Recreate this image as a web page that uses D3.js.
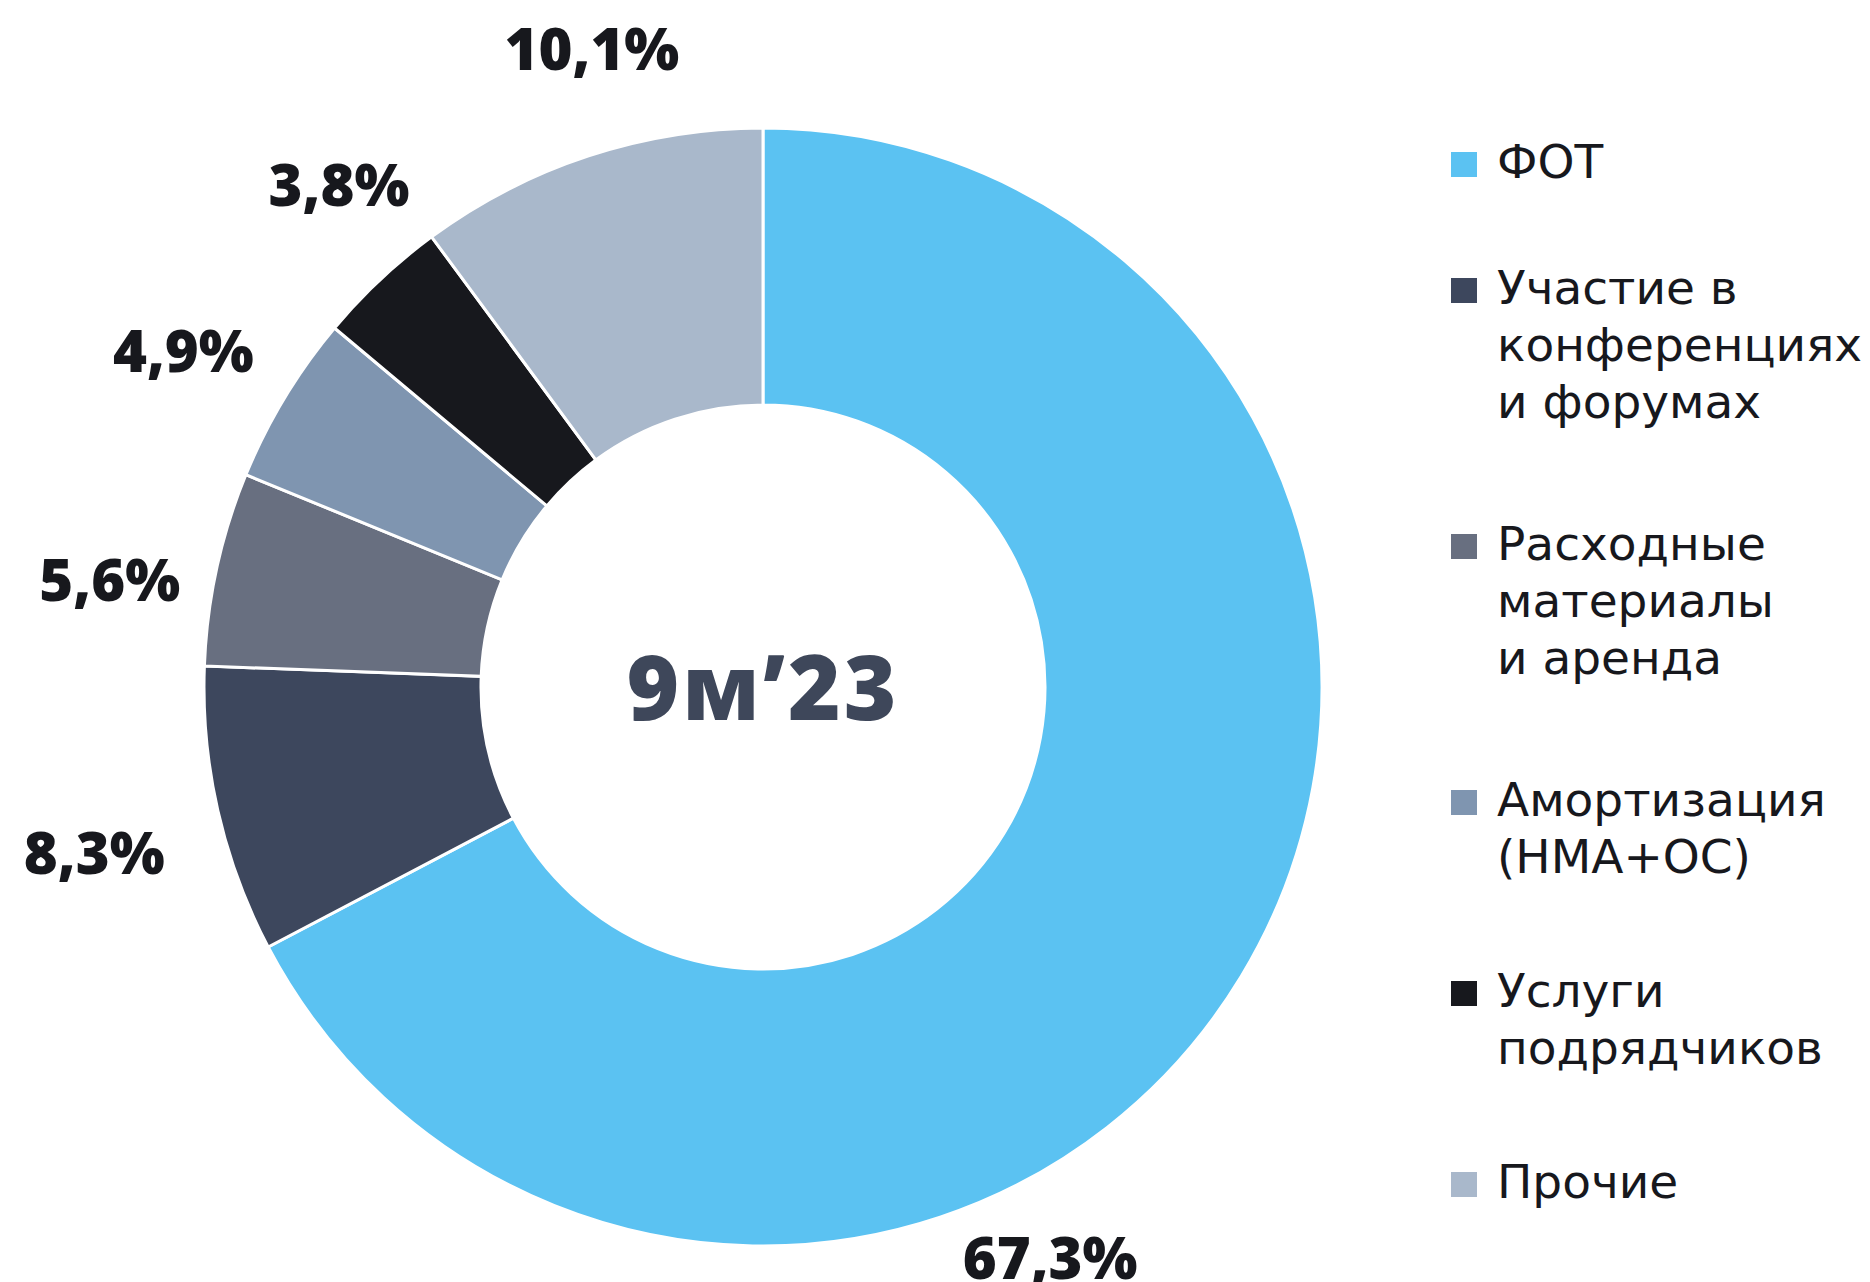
<!DOCTYPE html>
<html>
<head>
<meta charset="utf-8">
<script src="https://cdn.jsdelivr.net/npm/d3@7"></script>
<style>
  html, body { margin: 0; padding: 0; background: #ffffff; }
  svg { display: block; }
</style>
</head>
<body>
<div id="chart"></div>
<script>
// ---- data ----
const categories = ["ФОТ", "Участие в конференциях и форумах", "Расходные материалы и аренда", "Амортизация (НМА+ОС)", "Услуги подрядчиков", "Прочие"];
const legendLines = [["ФОТ"], ["Участие в", "конференциях", "и форумах"], ["Расходные", "материалы", "и аренда"], ["Амортизация", "(НМА+ОС)"], ["Услуги", "подрядчиков"], ["Прочие"]];
const values = [67.3, 8.3, 5.6, 4.9, 3.8, 10.1];
const valueLabels = ["67,3%", "8,3%", "5,6%", "4,9%", "3,8%", "10,1%"];
const centerTitle = "9м’23";

// ---- style / layout ----
const colors = ["#5BC2F2", "#3D475D", "#686F80", "#7F95B0", "#17181D", "#A9B8CB"];
const W = 1870, H = 1282;
const cx = 763, cy = 687, outerR = 559, innerR = 282;
// label placement (angle in degrees clockwise from 12 o'clock, radius from centre)
const labelLayout = [
  {a: 153.3, r: 639}, {a: 256.1, r: 689}, {a: 279.3, r: 662},
  {a: 300.1, r: 670}, {a: 319.8, r: 657}, {a: 345.0, r: 661}
];

const svg = d3.select("#chart").append("svg")
  .attr("width", W).attr("height", H)
  .attr("viewBox", `0 0 ${W} ${H}`);

const g = svg.append("g").attr("transform", `translate(${cx},${cy})`);

const pie = d3.pie().sort(null).value(d => d)
  .startAngle(0).endAngle(2 * Math.PI);
const arcs = pie(values);
const arc = d3.arc().innerRadius(innerR).outerRadius(outerR);

g.selectAll("path.slice").data(arcs).enter().append("path")
  .attr("class", "slice")
  .attr("d", arc)
  .attr("fill", (d, i) => colors[i])
  .attr("stroke", "#ffffff")
  .attr("stroke-width", 3)
  .attr("stroke-linejoin", "miter");

// value labels
g.selectAll("text.val").data(arcs).enter().append("text")
  .attr("class", "val")
  .attr("x", (d, i) => Math.sin(labelLayout[i].a * Math.PI / 180) * labelLayout[i].r)
  .attr("y", (d, i) => -Math.cos(labelLayout[i].a * Math.PI / 180) * labelLayout[i].r + 21)
  .attr("text-anchor", "middle")
  .attr("font-family", "'Open Sans', 'Noto Sans', sans-serif")
  .attr("font-weight", 800)
  .attr("font-size", 58)
  .attr("fill", "#17181D")
  .text((d, i) => valueLabels[i]);

// centre title
g.append("text")
  .attr("x", 0).attr("y", 33)
  .attr("text-anchor", "middle")
  .attr("font-family", "'Open Sans', 'Noto Sans', sans-serif")
  .attr("font-weight", 800)
  .attr("font-size", 90)
  .attr("letter-spacing", 3)
  .attr("fill", "#3E475A")
  .text(centerTitle);

// legend
const legX = 1451, textX = 1497, firstBase = 178, lineH = 57, perLine = 65, gap = 61, sq = 26;
let yb = firstBase;
const legend = svg.append("g").attr("class", "legend");
legendLines.forEach((lines, i) => {
  const item = legend.append("g");
  item.append("rect")
    .attr("x", legX).attr("y", yb - 26)
    .attr("width", sq).attr("height", sq - 1)
    .attr("fill", colors[i]);
  const t = item.append("text")
    .attr("font-family", "'DejaVu Sans', sans-serif")
    .attr("font-size", 47)
    .attr("fill", "#17181D");
  lines.forEach((ln, j) => {
    t.append("tspan").attr("x", textX).attr("y", yb + j * lineH).text(ln);
  });
  yb += lines.length * perLine + gap;
});
</script>
</body>
</html>
